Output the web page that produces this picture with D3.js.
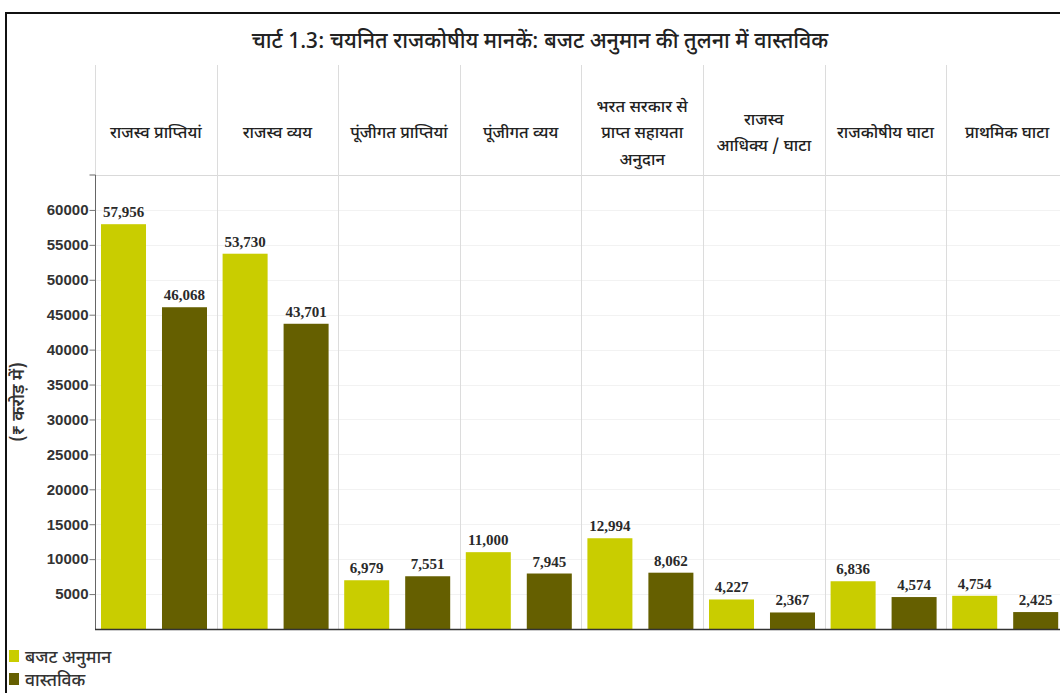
<!DOCTYPE html>
<html>
<head>
<meta charset="utf-8">
<script src="https://cdn.jsdelivr.net/npm/d3@7"></script>
<style>
  html, body { margin: 0; padding: 0; background: #fff; }
  svg { display: block; }
</style>
</head>
<body>
<svg id="chart" width="1060" height="693"></svg>
<script>
const titleText = "चार्ट 1.3: चयनित राजकोषीय मानकें: बजट अनुमान की तुलना में वास्तविक";
const categories = [
  ["राजस्व प्राप्तियां"],
  ["राजस्व व्यय"],
  ["पूंजीगत प्राप्तियां"],
  ["पूंजीगत व्यय"],
  ["भरत सरकार से", "प्राप्त सहायता", "अनुदान"],
  ["राजस्व", "आधिक्य / घाटा"],
  ["राजकोषीय घाटा"],
  ["प्राथमिक घाटा"]
];
const seriesNames = ["बजट अनुमान", "वास्तविक"];
const budgetValues = [57956, 53730, 6979, 11000, 12994, 4227, 6836, 4754];
const actualValues = [46068, 43701, 7551, 7945, 8062, 2367, 4574, 2425];
const yTicks = [5000, 10000, 15000, 20000, 25000, 30000, 35000, 40000, 45000, 50000, 55000, 60000];
const yAxisTitle = "(₹ करोड़ में)";
const colors = ["#c9cd00", "#655f00"];

(function () {
const devFont = "'Noto Sans Devanagari','Lohit Devanagari','Noto Sans','FreeSans',sans-serif";
const svg = d3.select("#chart");

// frame
svg.append("line").attr("x1", 5).attr("x2", 1060).attr("y1", 13).attr("y2", 13)
  .attr("stroke", "#111").attr("stroke-width", 2);
svg.append("line").attr("x1", 6).attr("x2", 6).attr("y1", 12).attr("y2", 693)
  .attr("stroke", "#111").attr("stroke-width", 2);

// title
svg.append("text").attr("x", 540).attr("y", 48).attr("text-anchor", "middle")
  .attr("font-family", devFont).attr("font-size", 21.5).attr("font-weight", 500).attr("fill", "#222")
  .text(titleText);

const pLeft = 95, step = 121.6, pTop = 175, pBottom = 629;
const keys = categories.map((d, i) => i);
const x0 = d3.scaleBand().domain(keys).range([pLeft, pLeft + step * keys.length]).paddingInner(0).paddingOuter(0);
const x1 = d3.scaleBand().domain([0, 1]).range([6, 112]).paddingInner(0.262).paddingOuter(0);
const y = d3.scaleLinear().domain([0, 65000]).range([pBottom, pTop]);

// horizontal faint grid
svg.append("g").selectAll("line").data(yTicks).join("line")
  .attr("x1", pLeft).attr("x2", 1060)
  .attr("y1", d => Math.round(y(d)) + 0.5).attr("y2", d => Math.round(y(d)) + 0.5)
  .attr("stroke", "#f2f2f2");
// top line
svg.append("line").attr("x1", pLeft).attr("x2", 1060).attr("y1", pTop + 0.5).attr("y2", pTop + 0.5)
  .attr("stroke", "#d9d9d9");

// column dividers
svg.append("g").selectAll("line").data(keys).join("line")
  .attr("x1", d => Math.round(x0(d)) + 0.5).attr("x2", d => Math.round(x0(d)) + 0.5)
  .attr("y1", 65).attr("y2", pBottom)
  .attr("stroke", "#dcdcdc");

// header labels
const hdr = svg.append("g");
categories.forEach((lines, i) => {
  const cx = x0(i) + x0.bandwidth() / 2;
  const lh = 26.5;
  const startY = 138 - (lines.length - 1) * lh / 2;
  lines.forEach((ln, j) => {
    hdr.append("text").attr("x", cx).attr("y", startY + j * lh)
      .attr("text-anchor", "middle").attr("font-family", devFont)
      .attr("font-size", 16.5).attr("font-weight", 500).attr("fill", "#222").text(ln);
  });
});

// bars
const data = keys.map(i => [budgetValues[i], actualValues[i]]);
const groups = svg.append("g").selectAll("g").data(data).join("g")
  .attr("transform", (d, i) => `translate(${x0(i)},0)`);
groups.selectAll("rect").data(d => d.map((v, s) => ({ v, s }))).join("rect")
  .attr("x", d => x1(d.s)).attr("width", x1.bandwidth())
  .attr("y", d => y(d.v)).attr("height", d => y(0) - y(d.v))
  .attr("fill", d => colors[d.s]);
groups.selectAll("text").data(d => d.map((v, s) => ({ v, s }))).join("text")
  .attr("x", d => x1(d.s) + x1.bandwidth() / 2).attr("y", d => y(d.v) - 7)
  .attr("text-anchor", "middle").attr("font-family", "'Liberation Serif','Times New Roman',serif")
  .attr("font-weight", "bold").attr("font-size", 15).attr("fill", "#2a2a2a")
  .text(d => d3.format(",")(d.v));

// y axis
const yAxis = d3.axisLeft(y).tickValues(yTicks).tickSize(6).tickFormat(d3.format("d"));
const ga = svg.append("g").attr("transform", `translate(${pLeft + 0.5},0)`).call(yAxis);
ga.select(".domain").attr("stroke", "#666").attr("d", `M-6,${pTop}H0V${pBottom}`);
ga.selectAll(".tick line").attr("stroke", "#777");
ga.selectAll(".tick text").attr("font-family", "'Liberation Sans Narrow','Liberation Sans',Arial,sans-serif")
  .attr("font-weight", "bold").attr("font-size", 15).attr("fill", "#333").attr("x", -7);

// baseline
svg.append("line").attr("x1", pLeft).attr("x2", 1060).attr("y1", pBottom + 0.5).attr("y2", pBottom + 0.5)
  .attr("stroke", "#333").attr("stroke-width", 1.5);

// y axis title
svg.append("text").attr("transform", `translate(24,402) rotate(-90)`)
  .attr("text-anchor", "middle").attr("font-family", devFont)
  .attr("font-size", 17.5).attr("font-weight", 600)
  .attr("fill", "#333").text(yAxisTitle);

// legend
const lg = svg.append("g");
seriesNames.forEach((n, i) => {
  const yy = 650 + i * 23;
  lg.append("rect").attr("x", 9).attr("y", yy).attr("width", 10).attr("height", 12).attr("fill", colors[i]);
  lg.append("text").attr("x", 25).attr("y", yy + 13).attr("font-family", devFont)
    .attr("font-size", 17.5).attr("font-weight", 500).attr("fill", "#333").text(n);
});
})();
</script>
</body>
</html>
